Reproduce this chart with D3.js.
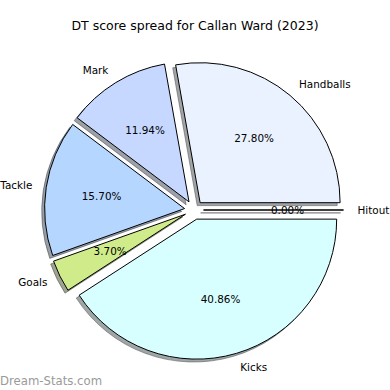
<!DOCTYPE html>
<html>
<head>
<meta charset="utf-8">
<script src="https://cdn.jsdelivr.net/npm/d3@7"></script>
<style>
    body { margin: 0; background: white; }
    svg { display: block; font-family: "DejaVu Sans", sans-serif; }
</style>
</head>
<body>
<div id="chartdiv"></div>
<script>
/*global d3 */

var labels = ["Handballs", "Mark", "Tackle", "Goals", "Kicks", "Hitout"];
var shares = [27.80, 11.94, 15.70, 3.70, 40.86, 0.00];
var colors = ["#eaf2ff", "#c6d8ff", "#b4d6ff", "#d0ec8a", "#d8ffff", "#ffffff"];
var title = "DT score spread for Callan Ward (2023)";
var watermark = "Dream-Stats.com";

(function () {
    "use strict";

    var ds = {w: 390, h: 390,
              cx: 194, cy: 210, r: 140,
              explode: 0.068,        //fraction of radius, every wedge
              labeldist: 1.1, pctdist: 0.6,
              shadow: {dx: -2.9, dy: 2.9},
              fs: 10.42, titlefs: 12.5};

    var svg, pie, arc, slices, g, expl;

    function shade (col) {  //matplotlib shadow: facecolor * 0.3
        var c = d3.rgb(col);
        return d3.rgb(c.r * 0.3, c.g * 0.3, c.b * 0.3).toString();
    }

    function dir (d) {
        var a = (d.startAngle + d.endAngle) / 2;
        return {x: Math.sin(a), y: -Math.cos(a)};
    }

    svg = d3.select("#chartdiv").append("svg")
        .attr("width", ds.w).attr("height", ds.h)
        .attr("viewBox", "0 0 " + ds.w + " " + ds.h);

    pie = d3.pie().sort(null).value(function (d) { return d; })
        .startAngle(Math.PI / 2).endAngle(Math.PI / 2 - 2 * Math.PI);
    arc = d3.arc().innerRadius(0).outerRadius(ds.r);
    slices = pie(shares);
    expl = ds.explode * ds.r;

    g = svg.append("g")
        .attr("transform", "translate(" + ds.cx + "," + ds.cy + ")");

    //shadows behind all wedges
    g.append("g").selectAll("path").data(slices).enter().append("path")
        .attr("transform", function (d) {
            var u = dir(d);
            return "translate(" + (u.x * expl + ds.shadow.dx) + "," +
                (u.y * expl + ds.shadow.dy) + ")"; })
        .attr("d", arc)
        .attr("fill", function (d, i) { return shade(colors[i]); })
        .attr("fill-opacity", 0.5)
        .attr("stroke", function (d, i) { return shade(colors[i]); })
        .attr("stroke-opacity", 0.5)
        .attr("stroke-width", 1);

    g.append("g").selectAll("path").data(slices).enter().append("path")
        .attr("transform", function (d) {
            var u = dir(d);
            return "translate(" + (u.x * expl) + "," + (u.y * expl) + ")"; })
        .attr("d", arc)
        .attr("fill", function (d, i) { return colors[i]; })
        .attr("stroke", "black")
        .attr("stroke-width", 1)
        .attr("stroke-linejoin", "round");

    //category labels
    g.append("g").selectAll("text").data(slices).enter().append("text")
        .attr("x", function (d) {
            var u = dir(d);
            return u.x * (expl + ds.labeldist * ds.r); })
        .attr("y", function (d) {
            var u = dir(d);
            return u.y * (expl + ds.labeldist * ds.r); })
        .attr("dy", "0.36em")
        .attr("text-anchor", function (d) {
            return dir(d).x > 0 ? "start" : "end"; })
        .style("font-size", ds.fs + "px")
        .text(function (d, i) { return labels[i]; });

    //percent labels
    g.append("g").selectAll("text").data(slices).enter().append("text")
        .attr("x", function (d) {
            var u = dir(d);
            return u.x * (expl + ds.pctdist * ds.r); })
        .attr("y", function (d) {
            var u = dir(d);
            return u.y * (expl + ds.pctdist * ds.r); })
        .attr("dy", "0.36em")
        .attr("text-anchor", "middle")
        .style("font-size", ds.fs + "px")
        .text(function (d) { return d.data.toFixed(2) + "%"; });

    svg.append("text")
        .attr("x", 195).attr("y", 30)
        .attr("text-anchor", "middle")
        .style("font-size", ds.titlefs + "px")
        .text(title);

    svg.append("text")
        .attr("x", 0).attr("y", 384.5)
        .attr("fill", "#9a9a9a")
        .style("font-size", "11.7px")
        .text(watermark);
}());
</script>
</body>
</html>
